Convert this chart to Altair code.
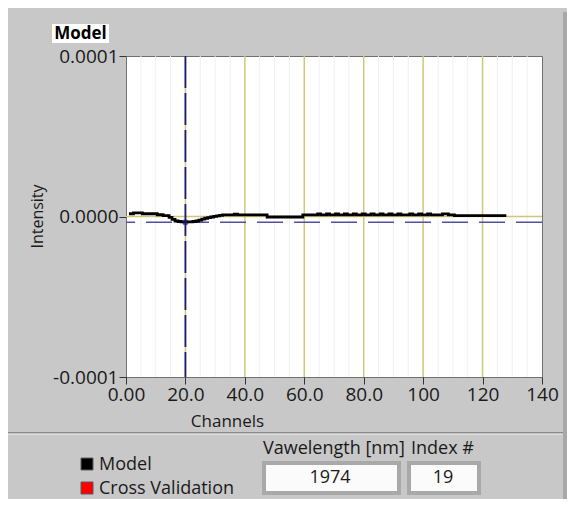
import altair as alt
import pandas as pd

# ---- data (intensity in units of 1e-6) ----
channels = list(range(1, 129))
model_micro = [
    1.7, 1.7, 2.3, 2.3, 2.3, 1.7, 1.7, 1.7, 1.7, 1.7,      # 1-10
    1.1, 1.1, 0.6, 0.6, -0.5, -1.8, -2.8, -3.1, -3.3, -3.4,  # 11-20
    -3.4, -3.3, -3.1, -2.8, -2.2, -1.6, -1.1, -0.7, -0.3, 0.1,  # 21-30
    0.4, 0.7, 1.0, 1.0, 1.0, 1.0, 1.5, 1.0, 1.0, 1.0,     # 31-40
    1.0, 1.0, 1.0, 1.0, 1.0, 1.0, 1.0, -0.3, -0.3, -0.3,  # 41-50
    -0.3, -0.3, -0.3, -0.3, -0.3, -0.3, -0.3, -0.3, -0.3, 1.0,  # 51-60
    1.0, 1.0, 1.0, 1.0, 1.6, 1.0, 1.0, 1.6, 1.0, 1.0,     # 61-70
    1.6, 1.0, 1.0, 1.6, 1.0, 1.0, 1.6, 1.0, 1.0, 1.6,     # 71-80
    1.0, 1.0, 1.6, 1.0, 1.0, 1.6, 1.0, 1.0, 1.6, 1.0,     # 81-90
    1.0, 1.6, 1.0, 1.0, 1.0, 1.6, 1.0, 1.0, 1.6, 1.0,     # 91-100
    1.0, 1.6, 1.0, 1.0, 1.0, 1.0, 1.6, 1.6, 1.0, 1.0,     # 101-110
    0.6, 0.6, 0.6, 0.6, 0.6, 0.6, 0.6, 0.6, 0.6, 0.6,     # 111-120
    0.6, 0.6, 0.6, 0.6, 0.6, 0.6, 0.6, 0.6,               # 121-128
]
cursor_channel = [20]
cursor_micro = [-3.6]

x_ticks = [0, 20, 40, 60, 80, 100, 120, 140]
x_major_grid = [20, 40, 60, 80, 100, 120]
x_minor_grid = [v for v in range(5, 140, 5) if v % 20 != 0]
y_ticks = [-1e-4, 0.0, 1e-4]
y_major_grid = [0.0]

legend_names = ["Model", "Cross Validation"]
legend_colors = ["#000000", "#ff0000"]
wavelength_value = "1974"
index_value = "19"

FONT = "Open Sans"
BG = "#c8c8c8"

df = pd.DataFrame({"channel": channels,
                   "intensity": [v * 1e-6 for v in model_micro]})
cur = pd.DataFrame({"channel": cursor_channel,
                    "intensity": [v * 1e-6 for v in cursor_micro]})
one = pd.DataFrame({"a": [0]})

xs = alt.Scale(domain=[0, 140], nice=False, zero=False)
ys = alt.Scale(domain=[-1e-4, 1e-4], nice=False, zero=False)

x_axis = alt.Axis(values=x_ticks,
                  labelExpr="datum.value == 0 ? '0.00' : format(datum.value, '.3r')",
                  grid=False, domain=False, labelFlush=False,
                  tickSize=7, tickColor="#333333", labelFontSize=19,
                  labelColor="#1a1a1a", labelPadding=1, labelFont=FONT,
                  title="Channels", titleFont=FONT, titleFontSize=17,
                  titleFontWeight="normal", titleColor="#1a1a1a",
                  titleX=101, titleY=44, titleBaseline="middle")
y_axis = alt.Axis(values=y_ticks,
                  labelExpr="replace(format(datum.value, '.4f'), '\u2212', '-')",
                  grid=False, domain=False, labelFlush=False,
                  tickSize=7, tickColor="#333333",
                  labelFontSize=19, labelColor="#1a1a1a", labelPadding=1,
                  labelFont=FONT, title="Intensity", titleFont=FONT,
                  titleFontSize=16, titleFontWeight="normal",
                  titleColor="#1a1a1a", titleX=-89, titleY=160,
                  titleAngle=-90, titleBaseline="middle")

X = lambda f: alt.X(f, scale=xs, axis=x_axis)
Y = lambda f: alt.Y(f, scale=ys, axis=y_axis)

# grid layers
minor = alt.Chart(pd.DataFrame({"g": x_minor_grid})).mark_rule(
    color="#f0f0f0", strokeWidth=1).encode(x=X("g:Q"))
major_x = alt.Chart(pd.DataFrame({"g": x_major_grid})).mark_rule(
    color="#cfc87a", strokeWidth=1.5).encode(x=X("g:Q"))
major_y = alt.Chart(pd.DataFrame({"g": y_major_grid})).mark_rule(
    color="#cfc87a", strokeWidth=1.5).encode(y=Y("g:Q"))

# cursor
cur_v = alt.Chart(cur).mark_rule(color="#1c1c78", strokeWidth=1.8,
                                 strokeDash=[32, 5]).encode(x=X("channel:Q"))
cur_h = alt.Chart(cur).mark_rule(color="#5050a0", strokeWidth=1.6,
                                 strokeDash=[26, 11]).encode(y=Y("intensity:Q"))
cur_pt = alt.Chart(cur).mark_point(shape="cross", angle=45, size=40,
                                   filled=True, color="#1c1c78").encode(
    x=X("channel:Q"), y=Y("intensity:Q"))

# model line
line = alt.Chart(df).mark_line(color="#000000", strokeWidth=2.8,
                               interpolate="step").encode(
    x=X("channel:Q"), y=Y("intensity:Q"))

# ---- panel decorations (pixel positions relative to plot origin) ----
def rect(x1, x2, y1, y2, **kw):
    return alt.Chart(one).mark_rect(**kw).encode(
        x=alt.value(x1), x2=alt.value(x2), y=alt.value(y1), y2=alt.value(y2))

def txt(x, y, s, **kw):
    base = dict(font=FONT, fontSize=18, color="#1a1a1a", baseline="middle")
    base.update(kw)
    return alt.Chart(one).mark_text(**base).encode(
        x=alt.value(x), y=alt.value(y), text=alt.value(s))

right_strip = rect(437, 442, -44, 460, color="#a8a8a8")
sep_dark = rect(-120, 437, 376, 377.5, color="#8a8a8a")
sep_light = rect(-120, 437, 377.5, 379, color="#dedede")

model_box = rect(-74, -17, -32, -13, color="#ffffff")
model_lbl = txt(-45.5, -22, "Model", fontWeight="bold", fontSize=17,
                align="center", color="#000000")

leg_parts = []
for i, (nm, col) in enumerate(zip(legend_names, legend_colors)):
    y0 = 402 + i * 24
    leg_parts.append(rect(-45, -33, y0, y0 + 12, color=col,
                          stroke="#5a5a5a", strokeWidth=1))
    leg_parts.append(txt(-27, y0 + 7, nm, align="left"))

wl_lbl = txt(137, 393, "Vawelength [nm]", align="left")
ix_lbl = txt(285, 393, "Index #", align="left")
box1_o = rect(136, 275, 405, 439, color="#a9a9a9")
box1_i = rect(140, 271, 409, 435, color="#fbfbfb")
box1_t = txt(204, 422, wavelength_value, align="center")
box2_o = rect(281, 355, 405, 439, color="#a9a9a9")
box2_i = rect(285, 351, 409, 435, color="#fbfbfb")
box2_t = txt(317, 422, index_value, align="center")

chart = alt.layer(
    minor, major_x, major_y, cur_v, cur_h, line, cur_pt,
    right_strip, sep_dark, sep_light, model_box, model_lbl,
    *leg_parts, wl_lbl, ix_lbl, box1_o, box1_i, box1_t,
    box2_o, box2_i, box2_t,
).properties(
    width=416, height=321,
    autosize=alt.AutoSizeParams(type="none"),
    padding={"left": 118, "top": 48, "right": 25, "bottom": 122},
    background=BG,
).configure_view(fill="#ffffff", stroke="#707070", strokeWidth=1)

chart.save("out.html", embed_options={"renderer": "svg", "actions": False})
